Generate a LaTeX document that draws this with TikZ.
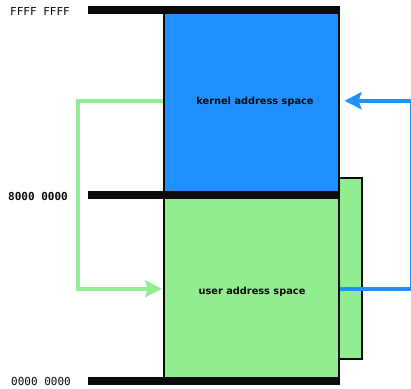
\documentclass[tikz,border=0pt]{standalone}
\usepackage{fontspec}
\setsansfont{DejaVu Sans}
\setmonofont{DejaVu Sans Mono}
\usetikzlibrary{arrows.meta}
\definecolor{kernelblue}{HTML}{1E90FF}
\definecolor{usergreen}{HTML}{90EE90}
\definecolor{ink}{HTML}{0A0A0A}
\begin{document}
\begin{tikzpicture}[x=1pt,y=-1pt,
  region/.style={draw=ink, line width=1.5pt, inner sep=0pt, anchor=north west},
  bar/.style={line width=7.5pt, ink},
  addr/.style={font=\ttfamily\fontsize{11}{12}\selectfont, text=ink, inner sep=0pt},
  spacelabel/.style={font=\sffamily\bfseries\fontsize{9.8}{12}\selectfont, text=ink, inner sep=0pt},
  link/.style={line width=4pt, -{Stealth[length=17pt,width=17pt,inset=3pt]}}
]
\useasboundingbox (0,0) rectangle (411,388);

% extra region behind the user space
\node[region, fill=usergreen, minimum width=23pt, minimum height=181pt] (extra) at (338,177) {};

% address space regions
\node[region, fill=kernelblue, minimum width=175pt, minimum height=185pt] (kernel) at (163,10) {};
\node[region, fill=usergreen, minimum width=175pt, minimum height=186pt] (user) at (163,195) {};

% boundary bars
\node[inner sep=0pt] (top) at (88,10) {};
\node[inner sep=0pt] (mid) at (88,195) {};
\node[inner sep=0pt] (bot) at (88,381) {};
\draw[bar] (top.center) -- (top.center -| kernel.east);
\draw[bar] (mid.center) -- (mid.center -| kernel.east);
\draw[bar] (bot.center) -- (bot.center -| kernel.east);

% address labels
\node[addr] (ffff) at (40,11) {FFFF FFFF};
\node[addr, font=\ttfamily\bfseries\fontsize{11}{12}\selectfont] (half) at (38,196) {8000 0000};
\node[addr] (zero) at (41,381) {0000 0000};

% region labels
\node[spacelabel] (klabel) at (255,101.5) {kernel address space};
\node[spacelabel] (ulabel) at (252,292) {user address space};

% mapping arrows
\draw[link, usergreen] ([yshift=2.5pt]kernel.west) -- ++(-85,0) |- ([xshift=-1pt]user.west);
\draw[link, kernelblue] (user.east) -- ++(72.5,0) |- ([xshift=5pt,yshift=2.5pt]kernel.east);
\end{tikzpicture}
\end{document}
